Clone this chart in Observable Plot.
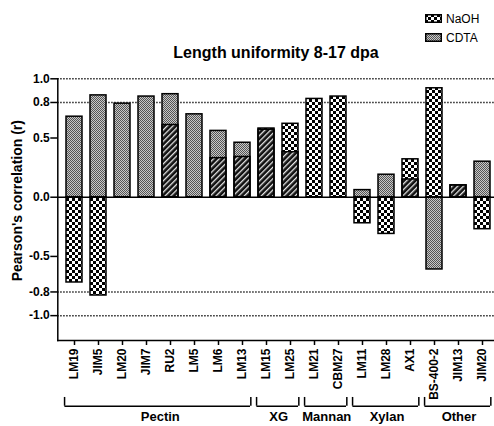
<!DOCTYPE html>
<html>
<head>
<meta charset="utf-8">
<script src="https://cdn.jsdelivr.net/npm/d3@7"></script>
<script src="https://cdn.jsdelivr.net/npm/@observablehq/plot@0.6"></script>
<style>
  body { margin: 0; background: #fff; }
  #wrap { position: relative; width: 494px; height: 426px; overflow: hidden;
          font-family: "Liberation Sans", Arial, sans-serif; color: #000; }
  #title { position: absolute; top: 44px; left: 276px; transform: translateX(-50%);
           white-space: nowrap; font-size: 16px; font-weight: bold; }
  #legend { position: absolute; left: 425px; top: 9px; font-size: 12px; }
  .row { display: flex; align-items: center; height: 19px; }
  .row svg { margin-right: 4px; }
  #chart { position: absolute; left: 0; top: 66px; }
</style>
</head>
<body>
<div id="wrap">
  <svg width="0" height="0" style="position:absolute">
    <defs>
      <!-- coarse black/white checkerboard -->
      <pattern id="pat-naoh" width="6" height="6" patternUnits="userSpaceOnUse">
        <rect width="6" height="6" fill="#fff"/>
        <rect x="0" y="0" width="3" height="3" fill="#000"/>
        <rect x="3" y="3" width="3" height="3" fill="#000"/>
      </pattern>
      <!-- fine grey stipple -->
      <pattern id="pat-cdta" width="2" height="2" patternUnits="userSpaceOnUse">
        <rect width="2" height="2" fill="#c8c8c8"/>
        <rect x="0" y="0" width="1" height="1" fill="#555"/>
        <rect x="1" y="1" width="1" height="1" fill="#555"/>
      </pattern>
      <!-- diagonal hatch where both extracts overlap -->
      <pattern id="pat-both" width="4" height="4" patternUnits="userSpaceOnUse" patternTransform="rotate(45)">
        <rect width="4" height="4" fill="#111"/>
        <rect x="0" y="0" width="1.3" height="4" fill="#e8e8e8"/>
      </pattern>
    </defs>
  </svg>
  <div id="legend"></div>
  <div id="title"></div>
  <div id="chart"></div>
</div>
<script>
// Monoclonal antibodies / probes, in plotting order
const antibodies = ["LM19", "JIM5", "LM20", "JIM7", "RU2", "LM5", "LM6", "LM13",
  "LM15", "LM25", "LM21", "CBM27", "LM11", "LM28", "AX1", "BS-400-2", "JIM13", "JIM20"];

// Pearson's r for each extract
const naoh = [-0.72, -0.83, 0, 0, 0.61, 0, 0.33, 0.34, 0.58, 0.62, 0.83, 0.85,
  -0.22, -0.31, 0.32, 0.92, 0.10, -0.27];
const cdta = [0.68, 0.86, 0.79, 0.85, 0.87, 0.70, 0.56, 0.46, 0.57, 0.38, 0, 0,
  0.06, 0.19, 0.15, -0.61, 0.10, 0.30];

// Polysaccharide classes
const groupNames = ["Pectin", "XG", "Mannan", "Xylan", "Other"];
const groupFirst = ["LM19", "LM15", "LM21", "LM11", "BS-400-2"];
const groupLast = ["LM13", "LM25", "CBM27", "AX1", "JIM20"];

const yTicks = [1.0, 0.8, 0.5, 0.0, -0.5, -0.8, -1.0];
const guideLines = [1.0, 0.8, -0.8, -1.0];
const seriesNames = ["NaOH", "CDTA"];
const seriesPatterns = ["url(#pat-naoh)", "url(#pat-cdta)"];

const titleText = "Length uniformity 8-17 dpa";
const yLabel = "Pearson's correlation (r)";

// Table: the shared part of two same-signed bars gets the hatch
const rows = antibodies.map((a, i) => {
  const n = naoh[i], c = cdta[i];
  const both = n * c > 0 ? Math.sign(n) * Math.min(Math.abs(n), Math.abs(c)) : 0;
  return {antibody: a, naoh: n, cdta: c, both};
});

const groups = groupNames.map((g, i) => {
  const i0 = antibodies.indexOf(groupFirst[i]);
  const i1 = antibodies.indexOf(groupLast[i]);
  return {name: g, first: groupFirst[i], last: groupLast[i], count: i1 - i0 + 1};
});

// Layout of the band scale
const xRange = [57.3, 499.3];
const padIn = 0.32, padOut = 0.18;
const step = (xRange[1] - xRange[0]) / (antibodies.length - padIn + 2 * padOut);
const bw = step * (1 - padIn);

const BRACKET_Y = -1.765, CAP_TOP = -1.691, GROUP_LABEL_Y = -1.858;

// Title and legend
document.getElementById("title").textContent = titleText;
const legend = document.getElementById("legend");
seriesNames.forEach((name, i) => {
  const row = document.createElement("div");
  row.className = "row";
  row.innerHTML = `<svg width="17" height="9"><rect x="0.75" y="0.75" width="15.5" height="7.5" fill="${seriesPatterns[i]}" stroke="#000" stroke-width="1.5"/></svg><span>${name}</span>`;
  legend.appendChild(row);
});

const chart = Plot.plot({
  width: 494,
  height: 360,
  marginLeft: 57.3,
  marginRight: 0,
  marginTop: 12.3,
  marginBottom: 86,
  style: {
    fontFamily: "Liberation Sans, Arial, sans-serif",
    fontSize: "12px",
    fontWeight: "bold",
    color: "#000",
    background: "transparent",
    overflow: "hidden"
  },
  x: {domain: antibodies, range: xRange, paddingInner: padIn, paddingOuter: padOut},
  y: {domain: [-1.21, 1.0]},
  marks: [
    Plot.ruleY(guideLines, {stroke: "#000", strokeWidth: 1.5, strokeDasharray: "1.3,1.7"}),
    Plot.barY(rows, {x: "antibody", y: "naoh", fill: seriesPatterns[0]}),
    Plot.barY(rows, {x: "antibody", y: "cdta", fill: seriesPatterns[1]}),
    Plot.barY(rows, {x: "antibody", y: "both", fill: "url(#pat-both)"}),
    Plot.barY(rows, {x: "antibody", y: "naoh", fill: "none", stroke: "#000", strokeWidth: 1.5}),
    Plot.barY(rows, {x: "antibody", y: "cdta", fill: "none", stroke: "#000", strokeWidth: 1.5}),
    Plot.ruleY([0], {stroke: "#000", strokeWidth: 1.5}),
    Plot.frame({anchor: "left", stroke: "#000", strokeWidth: 1.5}),
    Plot.frame({anchor: "bottom", stroke: "#000", strokeWidth: 1.5}),
    Plot.axisY(yTicks, {tickSize: 7, tickPadding: 1, strokeWidth: 1.5,
      tickFormat: d => d.toFixed(1), label: null}),
    Plot.axisX({tickSize: 5, tickPadding: 3, tickRotate: -90, strokeWidth: 1.5, label: null}),
    Plot.text([yLabel], {frameAnchor: "left", text: d => d, rotate: -90, textAnchor: "middle",
      lineAnchor: "middle", dx: -40.6, dy: -9, fontSize: 14}),
    // Class brackets under the axis
    Plot.ruleY(groups, {x1: "first", x2: "last", y: () => BRACKET_Y, insetLeft: -1.6, insetRight: 0,
      stroke: "#000", strokeWidth: 1.5}),
    Plot.ruleX(groups, {x: "first", y1: () => CAP_TOP, y2: () => BRACKET_Y, dx: -bw / 2 - 1.6,
      stroke: "#000", strokeWidth: 1.5}),
    Plot.ruleX(groups, {x: "last", y1: () => CAP_TOP, y2: () => BRACKET_Y, dx: bw / 2,
      stroke: "#000", strokeWidth: 1.5}),
    ...groups.map(g => Plot.text([g.name], {x: () => g.first, y: () => GROUP_LABEL_Y,
      dx: (g.count - 1) * step / 2, text: d => d, fontSize: 13}))
  ]
});
document.getElementById("chart").appendChild(chart);
</script>
</body>
</html>
